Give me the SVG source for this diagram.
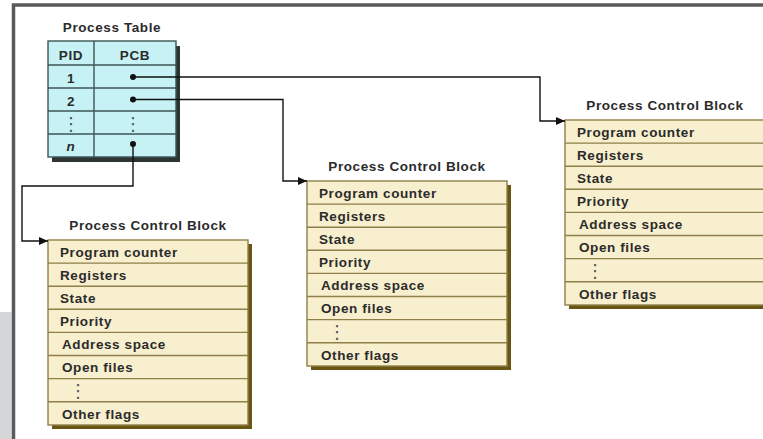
<svg xmlns="http://www.w3.org/2000/svg" width="763" height="439" viewBox="0 0 763 439">
<style>
  .t{font-family:"Liberation Sans",Arial,sans-serif;font-weight:bold;font-size:13.5px;fill:#2b2b2b;letter-spacing:0.6px}
  .ttl{text-anchor:middle}
  .c{text-anchor:middle}
  .ell{font-family:"DejaVu Sans",sans-serif;font-size:18px;fill:#555}
  .tbl{fill:#c6f2f6;stroke:#3d5557;stroke-width:1.4}
  .tline{stroke:#3d5557;stroke-width:1.4}
  .tsh{fill:#2e3434}
  .pcb{fill:#f8efce;stroke:#8f7f48;stroke-width:1.4}
  .pline{stroke:#8f7f48;stroke-width:1.4}
  .psh{fill:#6a5614}
  .conn{fill:none;stroke:#111;stroke-width:1.4}
  .dot{fill:#111}
</style>
<defs>
  <marker id="arr" markerWidth="9" markerHeight="8" refX="9" refY="4" orient="auto" markerUnits="userSpaceOnUse">
    <path d="M0,0 L9,4 L0,8 Z" fill="#111"/>
  </marker>
  <g id="pcbbody">
    <rect class="psh" x="4" y="4" width="200" height="185"/>
    <rect class="pcb" x="0" y="0" width="200" height="185"/>
    <path class="pline" d="M0,23.1H200M0,46.2H200M0,69.3H200M0,92.4H200M0,115.5H200M0,138.6H200M0,161.7H200"/>
    <text class="t ttl" x="100" y="-10">Process Control Block</text>
    <text class="t" x="12" y="16.8">Program counter</text>
    <text class="t" x="12" y="39.9">Registers</text>
    <text class="t" x="12" y="63">State</text>
    <text class="t" x="12" y="86.1">Priority</text>
    <text class="t" x="14" y="109.2">Address space</text>
    <text class="t" x="14" y="132.3">Open files</text>
    <text class="ell" x="21" y="157">⋮</text>
    <text class="t" x="14" y="178.5">Other flags</text>
  </g>
</defs>
<rect x="0" y="312" width="11.5" height="127" fill="#d4d6d8"/>
<path d="M13.5,439 V5 H763" fill="none" stroke="#5a5a5a" stroke-width="3.5"/>

<g id="process-table" transform="translate(48,41)">
  <text class="t ttl" x="64" y="-9">Process Table</text>
  <rect class="tsh" x="4" y="5" width="128" height="116"/>
  <rect class="tbl" x="0" y="0" width="128" height="116"/>
  <path class="tline" d="M46,0V116M0,24H128M0,47H128M0,70H128M0,93H128"/>
  <text class="t c" x="23" y="19">PID</text>
  <text class="t c" x="87" y="19">PCB</text>
  <text class="t c" x="23" y="42">1</text>
  <text class="t c" x="23" y="65">2</text>
  <text class="ell" x="23" y="88.5" text-anchor="middle">⋮</text>
  <text class="ell" x="85" y="88.5" text-anchor="middle">⋮</text>
  <text class="t c" x="23" y="110" font-style="italic">n</text>
  <circle class="dot" cx="85" cy="36" r="3"/>
  <circle class="dot" cx="85" cy="58.5" r="3"/>
  <circle class="dot" cx="85" cy="103" r="3"/>
</g>

<g id="pcb1" transform="translate(48,240)"><use href="#pcbbody"/></g>
<g id="pcb2" transform="translate(307,181)"><use href="#pcbbody"/></g>
<g id="pcb3" transform="translate(565,120)"><use href="#pcbbody"/></g>

<g id="connectors">
  <path class="conn" d="M133,77 H540 V121 H565" marker-end="url(#arr)"/>
  <path class="conn" d="M133,99.5 H283 V181 H307" marker-end="url(#arr)"/>
  <path class="conn" d="M133,144 V186 H22 V241 H48" marker-end="url(#arr)"/>
</g>
</svg>
